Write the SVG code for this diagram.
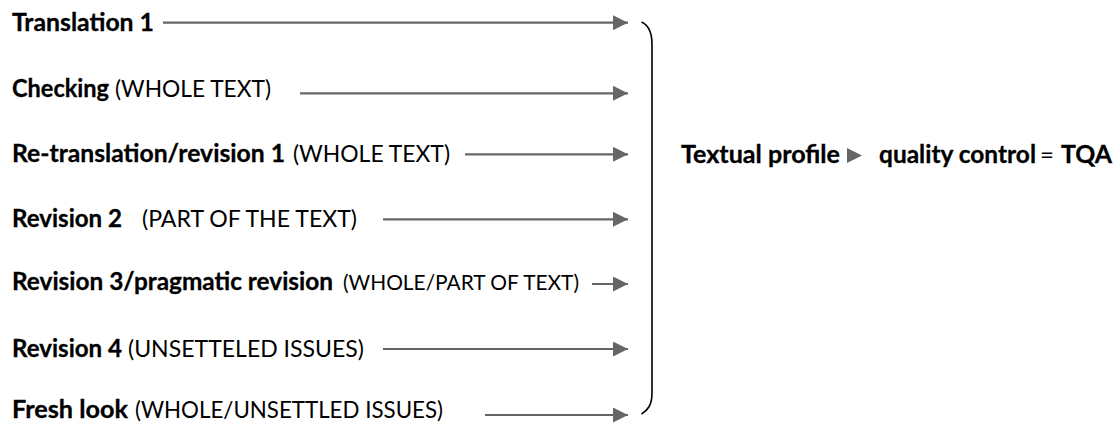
<svg xmlns="http://www.w3.org/2000/svg" width="1120" height="425" viewBox="0 0 1120 425">
<style>
text{font-family:Lato,"Noto Sans",sans-serif;font-size:24px;fill:#000}
.b{font-weight:bold;stroke:#000;stroke-width:0.3}
.s{font-size:21.5px}
.conn{stroke:#666;stroke-width:2.2;fill:none}
</style>
<defs>
<marker id="ah" markerUnits="userSpaceOnUse" markerWidth="16" markerHeight="15" refX="15" refY="7.5" orient="auto">
<path d="M0,0 L15,7.5 L0,15 Z" fill="#666"/>
</marker>
</defs>
<rect width="1120" height="425" fill="#fff"/>
<g id="n1"><text class="b" x="12" y="31" textLength="142" lengthAdjust="spacingAndGlyphs">Translation 1</text></g>
<g id="n2"><text class="b" x="12" y="97" textLength="97" lengthAdjust="spacingAndGlyphs">Checking</text><text x="115" y="97" textLength="156" lengthAdjust="spacingAndGlyphs">(WHOLE TEXT)</text></g>
<g id="n3"><text class="b" x="12" y="162" textLength="273" lengthAdjust="spacingAndGlyphs">Re-translation/revision 1</text><text x="293" y="162" textLength="157" lengthAdjust="spacingAndGlyphs">(WHOLE TEXT)</text></g>
<g id="n4"><text class="b" x="12" y="227" textLength="110" lengthAdjust="spacingAndGlyphs">Revision 2</text><text x="142" y="227" textLength="215" lengthAdjust="spacingAndGlyphs">(PART OF THE TEXT)</text></g>
<g id="n5"><text class="b" x="12" y="290" textLength="321" lengthAdjust="spacingAndGlyphs">Revision 3/pragmatic revision</text><text class="s" x="343" y="290" textLength="236" lengthAdjust="spacingAndGlyphs">(WHOLE/PART OF TEXT)</text></g>
<g id="n6"><text class="b" x="12" y="357" textLength="110" lengthAdjust="spacingAndGlyphs">Revision 4</text><text x="128" y="357" textLength="236" lengthAdjust="spacingAndGlyphs">(UNSETTELED ISSUES)</text></g>
<g id="n7"><text class="b" x="12" y="418" textLength="116" lengthAdjust="spacingAndGlyphs">Fresh look</text><text x="135" y="418" textLength="308" lengthAdjust="spacingAndGlyphs">(WHOLE/UNSETTLED ISSUES)</text></g>
<g id="result">
<text class="b" x="681" y="163" textLength="159" lengthAdjust="spacingAndGlyphs">Textual profile</text>
<path d="M847,148 L862,155.5 L847,163 Z" fill="#666"/>
<text class="b" x="879" y="163" textLength="157" lengthAdjust="spacingAndGlyphs">quality control</text>
<text x="1040" y="163">=</text>
<text class="b" x="1061" y="163" textLength="51" lengthAdjust="spacingAndGlyphs">TQA</text>
</g>
<g id="bracket"><path d="M641.5,22 C648,25 652,32 652,44 L652,393 C652,405 648,410 641.5,414" stroke="#000" stroke-width="1.6" fill="none"/></g>
<g id="connectors">
<line class="conn" x1="163" y1="22.7" x2="628" y2="22.7" marker-end="url(#ah)"/>
<line class="conn" x1="300" y1="93.3" x2="628" y2="93.3" marker-end="url(#ah)"/>
<line class="conn" x1="465" y1="154.3" x2="628" y2="154.3" marker-end="url(#ah)"/>
<line class="conn" x1="383" y1="219.3" x2="628" y2="219.3" marker-end="url(#ah)"/>
<line class="conn" x1="592" y1="284" x2="628" y2="284" marker-end="url(#ah)"/>
<line class="conn" x1="383" y1="349" x2="628" y2="349" marker-end="url(#ah)"/>
<line class="conn" x1="485" y1="415" x2="628" y2="415" marker-end="url(#ah)"/>
</g>
</svg>
